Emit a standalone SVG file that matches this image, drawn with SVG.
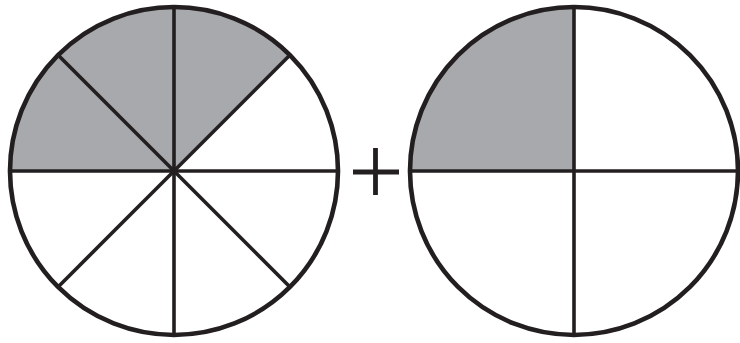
<svg xmlns="http://www.w3.org/2000/svg" width="740" height="343" viewBox="0 0 740 343">
<style>
.shade{fill:#a7a9ac;stroke:none}
.rim{fill:none;stroke:#231f20;stroke-width:4.6}
.spoke{stroke:#231f20;stroke-width:3.6;stroke-linecap:butt}
.plus{stroke:#231f20;stroke-width:4.8}
</style>
<rect width="740" height="343" fill="#fff"/>
<g id="eighths">
<path class="shade" d="M174,171 L10,171 A164,164 0 0 1 289.97,55.03 Z"/>
<line class="spoke" x1="10" y1="171" x2="338" y2="171"/>
<line class="spoke" x1="174" y1="7" x2="174" y2="335"/>
<line class="spoke" x1="58.03" y1="55.03" x2="289.97" y2="286.97"/>
<line class="spoke" x1="289.97" y1="55.03" x2="58.03" y2="286.97"/>
<circle class="rim" cx="174" cy="171" r="164"/>
</g>
<g id="plus">
<line class="plus" x1="353" y1="172" x2="399" y2="172"/>
<line class="plus" x1="375.5" y1="148" x2="375.5" y2="195"/>
</g>
<g id="quarters">
<path class="shade" d="M574,171 L410,171 A164,164 0 0 1 574,7 Z"/>
<line class="spoke" x1="410" y1="171" x2="738" y2="171"/>
<line class="spoke" x1="574" y1="7" x2="574" y2="335"/>
<circle class="rim" cx="574" cy="171" r="164"/>
</g>
<g id="connectors"/>
</svg>
